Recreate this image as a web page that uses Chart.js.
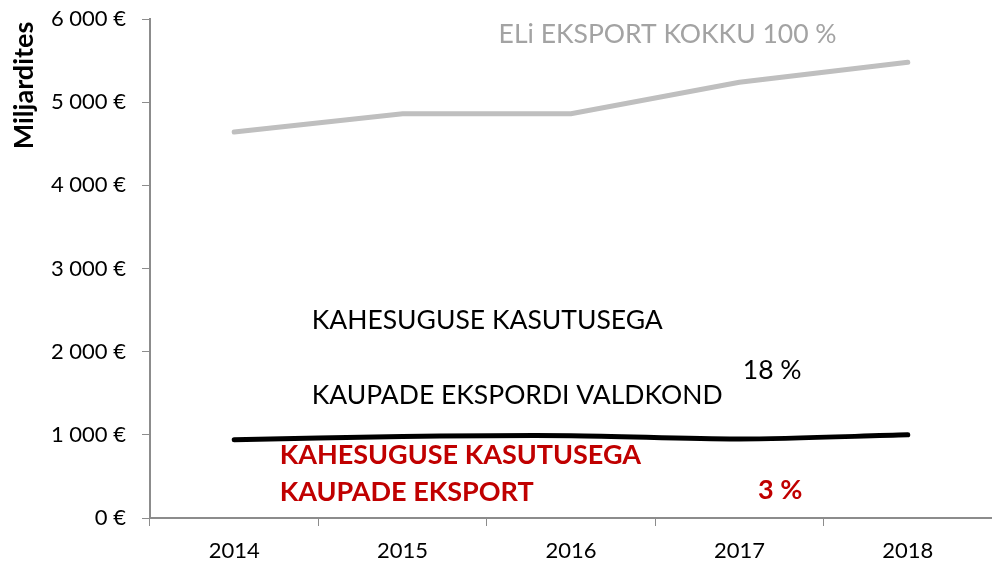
<!DOCTYPE html>
<html lang="et">
<head>
    <meta charset="UTF-8">
    <title>ELi eksport</title>
    <script src="https://cdn.jsdelivr.net/npm/chart.js"></script>
    <style>
        html, body { margin: 0; padding: 0; background: #fff; overflow: hidden; }
    </style>
</head>
<body>
    <canvas id="exportChart" width="992" height="567"></canvas>

    <script>
        // Data (millions of euro)
        const years = ['2014', '2015', '2016', '2017', '2018'];
        const totalExport = [4640, 4860, 4860, 5240, 5480];
        const dualUseArea = [940, 980, 990, 950, 1000];
        const yTicks = [0, 1000, 2000, 3000, 4000, 5000, 6000];

        const FONT = 'Lato, "Open Sans", sans-serif';

        // Text labels placed in data space: x = category index, y = value
        const notes = [
            { text: 'ELi EKSPORT KOKKU 100 %', x: 1.57, y: 5810, color: '#a3a3a3', size: 26.5, bold: false },
            { text: 'KAHESUGUSE KASUTUSEGA', x: 0.46, y: 2370, color: '#000', size: 26.5, bold: false },
            { text: 'KAUPADE EKSPORDI VALDKOND', x: 0.46, y: 1470, color: '#000', size: 26.5, bold: false },
            { text: '18 %', x: 3.02, y: 1780, color: '#000', size: 26.5, bold: false },
            { text: 'KAHESUGUSE KASUTUSEGA', x: 0.27, y: 750, color: '#c00000', size: 27, bold: true },
            { text: 'KAUPADE EKSPORT', x: 0.27, y: 310, color: '#c00000', size: 27, bold: true },
            { text: '3 %', x: 3.11, y: 330, color: '#c00000', size: 27, bold: true }
        ];

        function formatEuro(value) {
            if (value === 0) return '0 €';
            const s = String(value);
            return s.slice(0, s.length - 3) + ' ' + s.slice(-3) + ' €';
        }

        const notesPlugin = {
            id: 'notes',
            afterDatasetsDraw(chart) {
                const ctx = chart.ctx;
                const xs = chart.scales.x;
                const ys = chart.scales.y;
                const step = xs.getPixelForValue(1) - xs.getPixelForValue(0);
                ctx.save();
                ctx.textAlign = 'left';
                ctx.textBaseline = 'middle';
                notes.forEach(n => {
                    ctx.font = (n.bold ? 'bold ' : '') + n.size + 'px ' + FONT;
                    ctx.fillStyle = n.color;
                    ctx.fillText(n.text, xs.getPixelForValue(0) + n.x * step, ys.getPixelForValue(n.y));
                });
                // axis title, sitting high beside the axis
                ctx.translate(33, ys.getPixelForValue(5200));
                ctx.rotate(-Math.PI / 2);
                ctx.textAlign = 'center';
                ctx.textBaseline = 'alphabetic';
                ctx.font = 'bold 27px ' + FONT;
                ctx.fillStyle = '#000';
                ctx.fillText('Miljardites', 0, 0);
                ctx.restore();
            }
        };

        const ctx = document.getElementById('exportChart').getContext('2d');
        new Chart(ctx, {
            type: 'line',
            data: {
                labels: years,
                datasets: [
                    {
                        label: 'ELi eksport kokku',
                        data: totalExport,
                        borderColor: '#bfbfbf',
                        borderWidth: 5,
                        borderCapStyle: 'round',
                        pointRadius: 0,
                        tension: 0
                    },
                    {
                        label: 'Kahesuguse kasutusega kaupade ekspordi valdkond',
                        data: dualUseArea,
                        borderColor: '#000',
                        borderWidth: 5,
                        borderCapStyle: 'round',
                        pointRadius: 0,
                        tension: 0.3
                    }
                ]
            },
            options: {
                responsive: false,
                animation: false,
                layout: { padding: { top: 19, right: 0, bottom: 0, left: 0 } },
                plugins: {
                    legend: { display: false },
                    tooltip: { enabled: false }
                },
                scales: {
                    x: {
                        offset: true,
                        afterFit(scale) {
                            scale.height = 49;
                            scale.paddingLeft = 0;
                            scale.paddingRight = 0;
                        },
                        grid: {
                            offset: true,
                            drawOnChartArea: false,
                            color: '#8c8c8c',
                            tickLength: 8
                        },
                        border: { color: '#8c8c8c', width: 2 },
                        ticks: {
                            color: '#000',
                            padding: 12,
                            maxRotation: 0,
                            autoSkip: false,
                            font: { family: FONT, size: 22 }
                        }
                    },
                    y: {
                        min: 0,
                        max: 6000,
                        afterBuildTicks(scale) {
                            scale.ticks = yTicks.map(v => ({ value: v }));
                        },
                        afterFit(scale) {
                            scale.width = 150;
                            scale.paddingTop = 0;
                            scale.paddingBottom = 0;
                        },
                        grid: {
                            drawOnChartArea: false,
                            color: '#8c8c8c',
                            tickLength: 8
                        },
                        border: { color: '#8c8c8c', width: 2 },
                        ticks: {
                            color: '#000',
                            padding: 16,
                            font: { family: FONT, size: 22 },
                            callback: v => formatEuro(v)
                        }
                    }
                }
            },
            plugins: [notesPlugin]
        });
    </script>
</body>
</html>
